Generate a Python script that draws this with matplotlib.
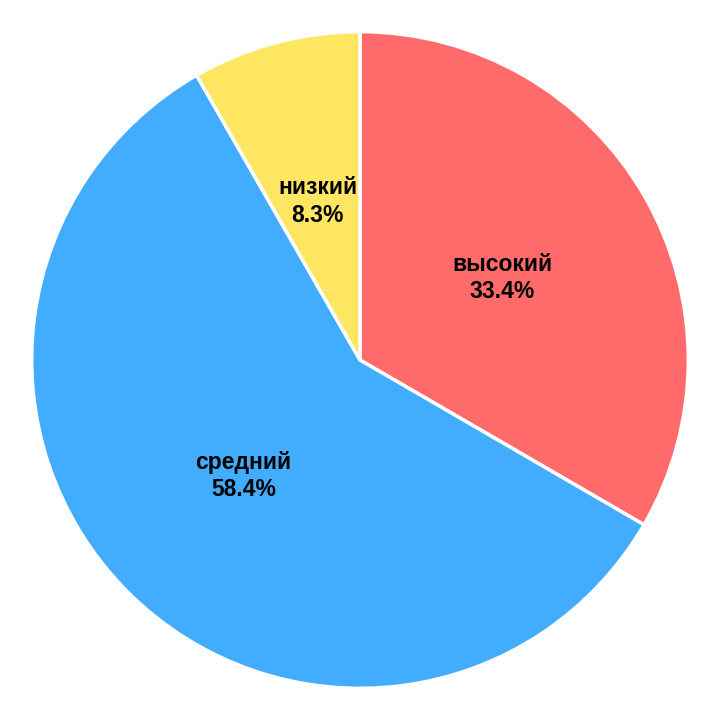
import matplotlib
matplotlib.use('Agg')
from matplotlib import pyplot as plt

plt.rcParams['font.family'] = ['Liberation Sans', 'DejaVu Sans']

labels = ['высокий', 'средний', 'низкий']
values = [33.4, 58.4, 8.3]
colors = ['#FF6B6B', '#42ADFF', '#FFE662']

fig = plt.figure(figsize=(7.2, 7.2), dpi=100)
ax = fig.add_axes([0.044, 0.044, 0.912, 0.912])

texts = [f'{l}\n{v}%' for l, v in zip(labels, values)]
wedges, txts = ax.pie(values, colors=colors, startangle=90, counterclock=False,
                      labels=texts, labeldistance=0.5,
                      wedgeprops=dict(edgecolor='white', linewidth=2.5),
                      textprops=dict(fontsize=16.5, fontweight='bold', ha='center',
                                     va='center', linespacing=1.25))
for t in txts:
    t.set_horizontalalignment('center')
ax.set_xlim(-1, 1)
ax.set_ylim(-1, 1)
ax.set_aspect('equal')

fig.savefig('out.png', dpi=100, facecolor='white')
